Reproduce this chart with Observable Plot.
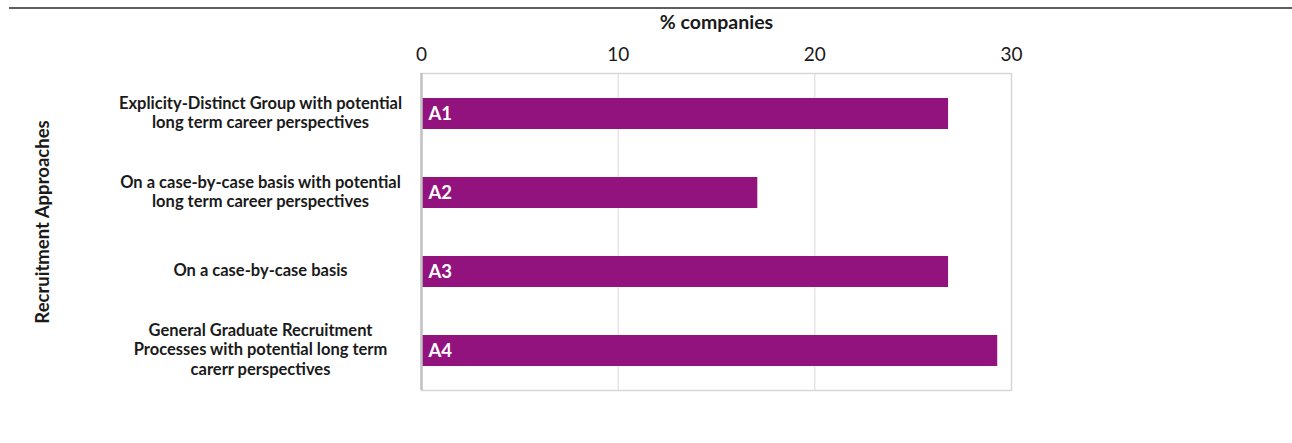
<!DOCTYPE html>
<html>
<head>
<meta charset="utf-8">
<script src="https://cdn.jsdelivr.net/npm/d3@7"></script>
<script src="https://cdn.jsdelivr.net/npm/@observablehq/plot@0.6"></script>
<style>
  html, body { margin: 0; padding: 0; background: #fff; }
  #wrap { position: relative; width: 1292px; height: 443px; }
  #topRule { position: absolute; left: 9px; right: 0; top: 7px; height: 2px; background: #5f5f5f; }
</style>
</head>
<body>
<div id="wrap"><div id="topRule"></div></div>
<script>
const codes = ["A1", "A2", "A3", "A4"];
const approaches = [
  "Explicity-Distinct Group with potential\nlong term career perspectives",
  "On a case-by-case basis with potential\nlong term career perspectives",
  "On a case-by-case basis",
  "General Graduate Recruitment\nProcesses with potential long term\ncarerr perspectives"
];
const shares = [26.8, 17.1, 26.8, 29.3];
const xTicks = [0, 10, 20, 30];
const xTitle = "% companies";
const yTitle = "Recruitment Approaches";

const data = codes.map((c, i) => ({code: c, label: approaches[i], value: shares[i]}));
const font = "Lato, 'Open Sans', sans-serif";

const chart = Plot.plot({
  width: 1292,
  height: 443,
  marginLeft: 421,
  marginRight: 281,
  marginTop: 73,
  marginBottom: 53,
  style: {fontFamily: font, color: "#1a1a1a", background: "transparent"},
  x: {domain: [0, 30], axis: null},
  y: {domain: codes, axis: null, paddingInner: 0.61, paddingOuter: 0.3},
  marks: [
    Plot.gridX([10, 20], {stroke: "#d9d9d9", strokeOpacity: 1, strokeWidth: 1}),
    Plot.frame({stroke: "#d6d6d6", strokeWidth: 1.5}),
    Plot.barX(data, {x: "value", y: "code", fill: "#93137e"}),
    Plot.ruleX([0], {stroke: "#c2c2c2", strokeWidth: 2.5}),
    Plot.text(data, {x: 0, y: "code", text: "code", dx: 7, textAnchor: "start", fill: "white", fontWeight: "bold", fontSize: 18.5}),
    Plot.text(data, {y: "code", text: "label", frameAnchor: "left", dx: -161, dy: -2, textAnchor: "middle", fontSize: 16.5, fontWeight: "bold", lineHeight: 1.18, fill: "#1a1a1a"}),
    Plot.axisX(xTicks, {anchor: "top", tickSize: 0, tickPadding: 13, fontSize: 19, label: null, fill: "#1a1a1a"}),
    Plot.text([xTitle], {frameAnchor: "top", dy: -51, lineAnchor: "middle", textAnchor: "middle", fontWeight: "bold", fontSize: 19.5, fill: "#1a1a1a"}),
    Plot.text([yTitle], {frameAnchor: "left", dx: -378, dy: -10, rotate: -90, textAnchor: "middle", lineAnchor: "middle", fontWeight: "bold", fontSize: 18.5, fill: "#1a1a1a"})
  ]
});
document.getElementById("wrap").appendChild(chart);
</script>
</body>
</html>
